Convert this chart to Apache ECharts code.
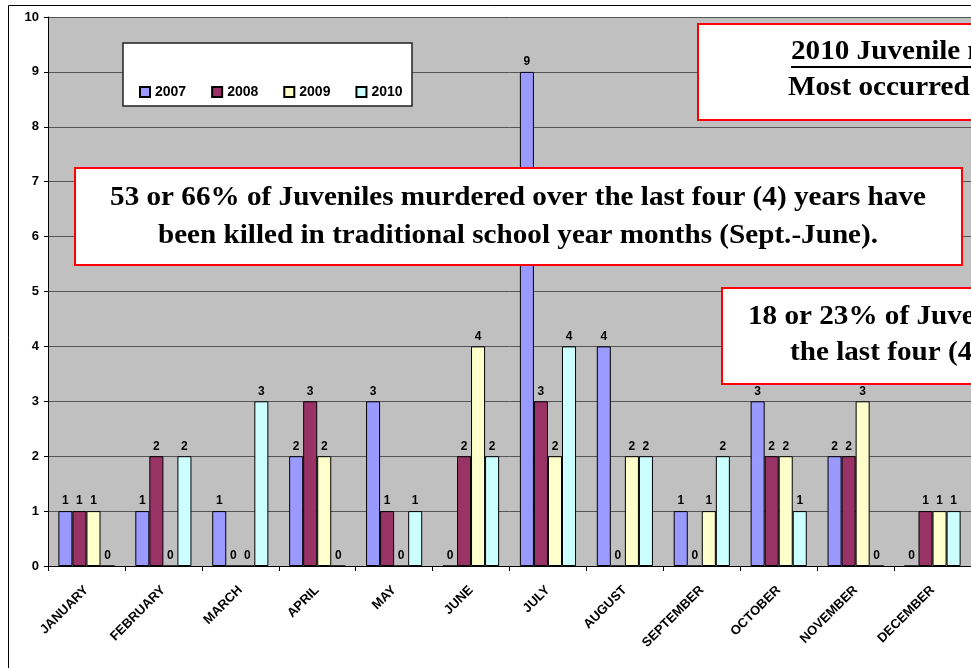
<!DOCTYPE html>
<html>
<head>
<meta charset="utf-8">
<script src="https://cdn.jsdelivr.net/npm/echarts@6/dist/echarts.min.js"></script>
<style>
  html, body { margin: 0; padding: 0; background: #fff; }
  #chart { width: 971px; height: 668px; }
</style>
</head>
<body>
<div id="chart"></div>
<script>
var months = ['JANUARY', 'FEBRUARY', 'MARCH', 'APRIL', 'MAY', 'JUNE', 'JULY', 'AUGUST', 'SEPTEMBER', 'OCTOBER', 'NOVEMBER', 'DECEMBER'];
var years = ['2007', '2008', '2009', '2010'];
var data2007 = [1, 1, 1, 2, 3, 0, 9, 4, 1, 3, 2, 0];
var data2008 = [1, 2, 0, 3, 1, 2, 3, 0, 0, 2, 2, 1];
var data2009 = [1, 0, 0, 2, 0, 4, 2, 2, 1, 2, 3, 1];
var data2010 = [0, 2, 3, 0, 1, 2, 4, 2, 2, 1, 0, 1];
var colors = ['#9999FF', '#993366', '#FFFFCC', '#CCFFFF'];

var chart = echarts.init(document.getElementById('chart'));

// 生成一个系列
function makeSeries(name, values, color) {
  return {
    name: name,
    type: 'bar',
    data: values,
    barGap: '0%',
    barCategoryGap: '27%',
    itemStyle: { color: color, borderColor: '#000', borderWidth: 1 },
    label: {
      show: true,
      position: 'top',
      distance: 4,
      color: '#000',
      fontFamily: 'Liberation Sans',
      fontWeight: 'bold',
      fontSize: 12
    }
  };
}

var serif = 'bold 27px "Liberation Serif"';
var stretch = 1.08; // 原图文字横向拉伸

chart.setOption({
  animation: false,
  textStyle: { fontFamily: 'Liberation Sans' },
  grid: {
    left: 48, top: 17, width: 927, height: 549,
    show: true, backgroundColor: '#C0C0C0', borderWidth: 0
  },
  legend: {
    data: years,
    left: 134, top: 80,
    itemWidth: 10, itemHeight: 10, itemGap: 25,
    icon: 'rect',
    textStyle: { fontFamily: 'Liberation Sans', fontWeight: 'bold', fontSize: 14, color: '#000' },
    z: 20
  },
  xAxis: {
    type: 'category',
    data: months,
    axisLine: { lineStyle: { color: '#000', width: 1 } },
    axisTick: { show: true, alignWithLabel: false, length: 5, lineStyle: { color: '#000' } },
    axisLabel: {
      rotate: 45, margin: 22, interval: 0,
      color: '#000', fontFamily: 'Liberation Sans', fontWeight: 'bold', fontSize: 13
    }
  },
  yAxis: {
    type: 'value',
    min: 0, max: 10, interval: 1,
    axisLine: { show: true, lineStyle: { color: '#000', width: 1 } },
    axisTick: { show: true, length: 4, lineStyle: { color: '#000' } },
    splitLine: { show: true, lineStyle: { color: '#555', width: 1 } },
    axisLabel: { color: '#000', fontFamily: 'Liberation Sans', fontWeight: 'bold', fontSize: 13, margin: 9 }
  },
  series: [
    makeSeries(years[0], data2007, colors[0]),
    makeSeries(years[1], data2008, colors[1]),
    makeSeries(years[2], data2009, colors[2]),
    makeSeries(years[3], data2010, colors[3])
  ],
  graphic: [
    // 外框
    { type: 'rect', z: 1, silent: true, shape: { x: 8.5, y: 5.5, width: 1000, height: 700 },
      style: { fill: 'none', stroke: '#000', lineWidth: 1 } },
    // 图例框
    { type: 'rect', z: 10, shape: { x: 123, y: 43, width: 289, height: 63 },
      style: { fill: '#fff', stroke: '#222', lineWidth: 1.5 } },
    // 2010 框
    { type: 'rect', z: 10, shape: { x: 698, y: 24, width: 300, height: 96 },
      style: { fill: '#fff', stroke: '#FF0000', lineWidth: 2 } },
    { type: 'text', z: 11, x: 791, y: 52, scaleX: stretch,
      style: { text: '2010 Juvenile murders', font: serif, fill: '#000', verticalAlign: 'middle' } },
    { type: 'line', z: 11, shape: { x1: 791, y1: 67, x2: 980, y2: 67 },
      style: { stroke: '#000', lineWidth: 2 } },
    { type: 'text', z: 11, x: 788, y: 88, scaleX: stretch,
      style: { text: 'Most occurred', font: serif, fill: '#000', verticalAlign: 'middle' } },
    // 大框
    { type: 'rect', z: 10, shape: { x: 75, y: 168, width: 887, height: 97 },
      style: { fill: '#fff', stroke: '#FF0000', lineWidth: 2 } },
    { type: 'text', z: 11, x: 518, y: 217, scaleX: stretch,
      style: {
        text: '53 or 66% of Juveniles murdered over the last four (4) years have\nbeen killed in traditional school year months (Sept.-June).',
        font: serif, fill: '#000', align: 'center', verticalAlign: 'middle', lineHeight: 38
      } },
    // 18 or 23% 框
    { type: 'rect', z: 10, shape: { x: 722, y: 288, width: 300, height: 96 },
      style: { fill: '#fff', stroke: '#FF0000', lineWidth: 2 } },
    { type: 'text', z: 11, x: 748, y: 317, scaleX: stretch,
      style: { text: '18 or 23% of Juveniles', font: serif, fill: '#000', verticalAlign: 'middle' } },
    { type: 'text', z: 11, x: 790, y: 353, scaleX: stretch,
      style: { text: 'the last four (4) years', font: serif, fill: '#000', verticalAlign: 'middle' } }
  ]
});
</script>
</body>
</html>
